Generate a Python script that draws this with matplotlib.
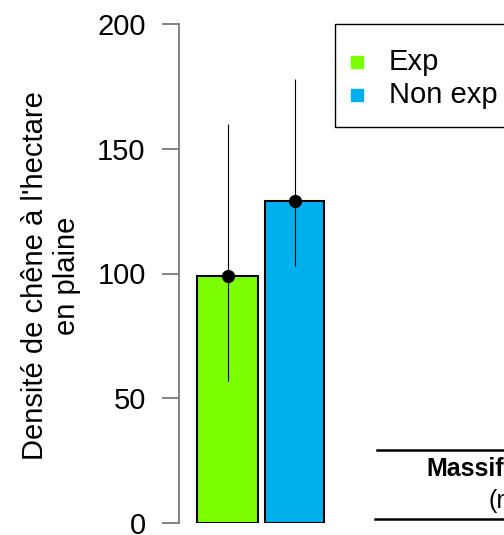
import matplotlib.pyplot as plt
import matplotlib.patches as patches
from matplotlib.lines import Line2D

plt.rcParams['font.family'] = ['Liberation Sans', 'DejaVu Sans']

# --- data ---
groups = ["Exp", "Non exp"]
means = [99, 129]
err_low = [57, 103]
err_high = [160, 178]
colors = ["#7cff00", "#00b0ec"]

W, H = 504, 535
fig = plt.figure(figsize=(W / 100, H / 100), dpi=100)

# axes: left spine at x=179px, y=0 at 523px, y=200 at 24px
ax = fig.add_axes([179 / W, (H - 523) / H, 1 - 179 / W, (523 - 24) / H])
ax.set_ylim(0, 200)
ax.set_xlim(-0.724, 4.127)

xs = [0, 1]
widths = [0.91, 0.88]
for x, m, w, c in zip(xs, means, widths, colors):
    ax.bar(x, m, width=w, color=c, edgecolor="black", linewidth=1.5, zorder=2)
for x, m, lo, hi in zip(xs, means, err_low, err_high):
    ax.errorbar(x, m, yerr=[[m - lo], [hi - m]], fmt="o", color="black",
                ecolor="black", elinewidth=0.8, capsize=0, markersize=8.5, zorder=3)

for s in ["top", "right", "bottom"]:
    ax.spines[s].set_visible(False)
ax.spines["left"].set_color("#707070")
ax.spines["left"].set_linewidth(1.2)
ax.set_yticks([0, 50, 100, 150, 200])
ax.tick_params(axis="y", direction="out", length=12, width=1.2, color="#707070",
               labelsize=21, pad=12)
ax.set_xticks([])

# y label (two lines, centred left of the tick labels)
fig.text(51 / W, 1 - 276 / H, "Densité de chêne à l'hectare\nen plaine",
         fontsize=21, rotation=90, ha="center", va="center",
         multialignment="center", linespacing=1.2)

# --- legend box (extends past the right edge in the reference) ---
fig.patches.append(patches.Rectangle((335 / W, 1 - 127 / H), 200 / W, 103 / H,
                                     transform=fig.transFigure, fill=False,
                                     edgecolor="black", linewidth=1.0))
for yy, lab, c in zip([62, 95], groups, colors):
    fig.lines.append(Line2D([357 / W], [1 - yy / H], marker="s", markersize=8.5,
                            color=c, linestyle="none", transform=fig.transFigure))
    fig.text(389 / W, 1 - yy / H, lab, fontsize=21, va="center", ha="left")

# --- table fragment at the bottom right ---
fig.lines.append(Line2D([377 / W, 1.1], [1 - 450 / H] * 2, color="black",
                        linewidth=1.8, transform=fig.transFigure))
fig.lines.append(Line2D([375 / W, 1.1], [1 - 519 / H] * 2, color="black",
                        linewidth=1.8, transform=fig.transFigure))
fig.text(426 / W, 1 - 469 / H, "Massif", fontsize=18, fontweight="bold",
         va="center", ha="left")
fig.text(488 / W, 1 - 501 / H, "(n", fontsize=18, va="center", ha="left")

fig.savefig("out.png", dpi=100)
